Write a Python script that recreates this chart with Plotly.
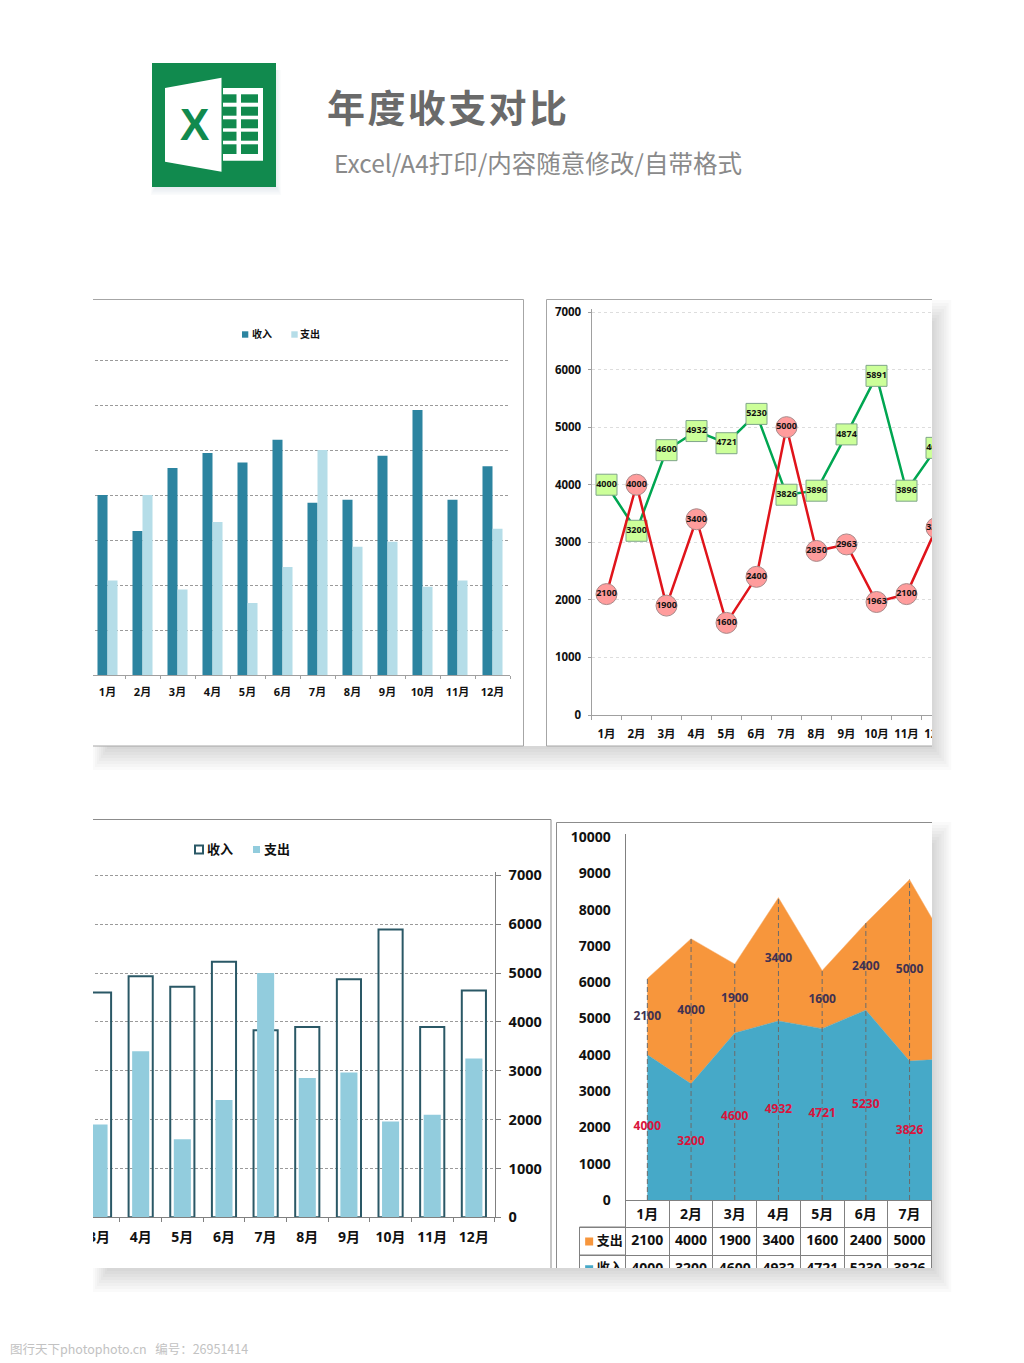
import plotly.graph_objects as go

W, H = 1024, 1363

months = ["1月", "2月", "3月", "4月", "5月", "6月", "7月", "8月", "9月", "10月", "11月", "12月"]
income = [4000, 3200, 4600, 4932, 4721, 5230, 3826, 3896, 4874, 5891, 3896, 4640]
expense = [2100, 4000, 1900, 3400, 1600, 2400, 5000, 2850, 2963, 1963, 2100, 3250]
name_income = "收入"
name_expense = "支出"
title_text = "年\u200a度\u200a收\u200a支\u200a对\u200a比"
subtitle_text = "Excel/A4打印/内容随意修改/自带格式"
watermark_text = "图行天下photophoto.cn   编号：26951414"
AREA_COLUMNS_SHOWN = 7  # the lower right panel crops the table after 7月

FONT = "Open Sans, Noto Sans CJK SC, sans-serif"
CJK = "Noto Sans CJK SC, sans-serif"
INK = "#111111"


def px(x):
    return x / W


def py(y):
    return 1 - y / H


def bold(size, color=INK):
    return dict(family=FONT, size=size, color=color, weight=700)


fig = go.Figure()
shapes, annots = [], []


def rect(x0, y0, x1, y1, fill, line=None, width=0):
    shapes.append(dict(type="rect", xref="paper", yref="paper", layer="above",
                       x0=px(x0), x1=px(x1), y0=py(y0), y1=py(y1), fillcolor=fill,
                       line=dict(color=line or "rgba(0,0,0,0)", width=width)))


def seg(x0, y0, x1, y1, color="#a6a6a6", width=1):
    shapes.append(dict(type="line", xref="paper", yref="paper", layer="above",
                       x0=px(x0), x1=px(x1), y0=py(y0), y1=py(y1),
                       line=dict(color=color, width=width)))


def label(x, y, text, font, anchor="left"):
    annots.append(dict(xref="paper", yref="paper", x=px(x), y=py(y), text=text, showarrow=False,
                       xanchor=anchor, yanchor="middle", font=font, borderpad=0, borderwidth=0))


def cat_axis(x0, x1, y_anchor, rng, size, ticklen=4, standoff=6, line="#a0a0a0", **kw):
    d = dict(type="category", categoryorder="array", categoryarray=months, range=rng,
             domain=[max(px(x0), 0), min(px(x1), 1)], anchor=y_anchor, tickson="boundaries",
             ticks="outside", ticklen=ticklen, tickwidth=1, tickcolor=line, showline=True,
             linecolor=line, linewidth=1, showgrid=False, tickfont=bold(size), tickangle=0,
             ticklabelstandoff=standoff, zeroline=False, fixedrange=True)
    d.update(kw)
    return d


def val_axis(y_bottom, y_top, x_anchor, top, **kw):
    # 3 px of headroom so that the top gridline is not clipped away
    head = 3
    d = dict(range=[0, top * (1 + head / (y_bottom - y_top))], domain=[py(y_bottom), py(y_top - head)],
             anchor=x_anchor, dtick=1000, tickformat="d", zeroline=False, fixedrange=True)
    d.update(kw)
    return d


def shown(values):
    return [str(v) if i < AREA_COLUMNS_SHOWN else "" for i, v in enumerate(values)]


# ---------- chart 1: grouped bars ----------
w1 = 0.286
fig.add_bar(x=months, y=income, name=name_income, xaxis="x", yaxis="y", width=w1, offset=-w1,
            marker=dict(color="#2C84A0", line_width=0))
fig.add_bar(x=months, y=expense, name=name_expense, xaxis="x", yaxis="y", width=w1, offset=0,
            marker=dict(color="#B5DDE8", line_width=0))

# ---------- chart 2: lines with value markers ----------
fig.add_scatter(x=months, y=income, name=name_income, xaxis="x2", yaxis="y2", mode="lines+markers+text",
                text=[str(v) for v in income], textposition="middle center", textfont=bold(9, "#111111"),
                line=dict(color="#00A651", width=2.5),
                marker=dict(symbol="square", size=21, color="#CCFF99", line=dict(color="#7FA58A", width=1)))
fig.add_scatter(x=months, y=expense, name=name_expense, xaxis="x2", yaxis="y2", mode="lines+markers+text",
                text=[str(v) for v in expense], textposition="middle center", textfont=bold(9, "#111111"),
                line=dict(color="#E0141B", width=2.5),
                marker=dict(symbol="circle", size=21, color="#FF9C9C", line=dict(color="#A88A8A", width=1)))

# ---------- chart 3: overlapped bars ----------
fig.add_bar(x=months, y=income, name=name_income, xaxis="x3", yaxis="y3", width=0.58, offset=-0.29,
            marker=dict(color="rgba(0,0,0,0)", line=dict(color="#2A5866", width=2)))
fig.add_bar(x=months, y=expense, name=name_expense, xaxis="x3", yaxis="y3", width=0.41, offset=-0.205,
            marker=dict(color="#92CCDD", line_width=0))

# ---------- chart 4: stacked area with drop lines and data table ----------
fig.add_scatter(x=months, y=income, name=name_income, xaxis="x4", yaxis="y4", mode="lines",
                stackgroup="a", fillcolor="#46A9C8", line=dict(width=0.5, color="#46A9C8"))
fig.add_scatter(x=months, y=expense, name=name_expense, xaxis="x4", yaxis="y4", mode="lines",
                stackgroup="a", fillcolor="#F7963C", line=dict(width=0.5, color="#F9B980"))
drop_x, drop_y = [], []
for m, a, b in zip(months, income, expense):
    drop_x += [m, m, None]
    drop_y += [0, a + b, None]
fig.add_scatter(x=drop_x, y=drop_y, xaxis="x4", yaxis="y4", mode="lines",
                line=dict(color="#6b6b6b", width=1, dash="5px,3px"), hoverinfo="skip")
fig.add_scatter(x=months, y=[a / 2 for a in income], xaxis="x4", yaxis="y4", mode="text",
                text=shown(income), textfont=bold(12, "#D9143C"))
fig.add_scatter(x=months, y=[a + b / 2 for a, b in zip(income, expense)], xaxis="x4", yaxis="y4", mode="text",
                text=shown(expense), textfont=bold(12, "#403152"))

# table under the area chart, sharing its categories
ROW_EXPENSE, ROW_INCOME = 1.5, 2.5
fig.add_scatter(x=months, y=[ROW_EXPENSE] * 12, xaxis="x5", yaxis="y5", mode="text",
                text=shown(expense), textfont=bold(14))
fig.add_scatter(x=months, y=[ROW_INCOME] * 12, xaxis="x5", yaxis="y5", mode="text",
                text=shown(income), textfont=bold(14))
fig.add_scatter(x=[0.21], y=[ROW_EXPENSE], xaxis="x6", yaxis="y5", mode="markers",
                marker=dict(symbol="square", size=8, color="#F7963C"))
fig.add_scatter(x=[0.21], y=[ROW_INCOME], xaxis="x6", yaxis="y5", mode="markers",
                marker=dict(symbol="square", size=8, color="#46A9C8"))
fig.add_scatter(x=[0.66], y=[ROW_EXPENSE], xaxis="x6", yaxis="y5", mode="text", text=[name_expense],
                textfont=bold(13))
fig.add_scatter(x=[0.66], y=[ROW_INCOME], xaxis="x6", yaxis="y5", mode="text", text=[name_income],
                textfont=bold(13))

# ---------- panel geometry ----------
c3_right, c3_step = 494.7, 41.65
c4_left, c4_step = 625.5, 43.7
c4_end = -0.5 + (W - c4_left) / c4_step
grey_dash = dict(showgrid=True, gridcolor="#9a9a9a", griddash="3px,2px", gridwidth=1)

fig.update_layout(
    width=W, height=H, margin=dict(l=0, r=0, t=0, b=0, pad=0, autoexpand=False), showlegend=False, barmode="overlay",
    paper_bgcolor="white", plot_bgcolor="rgba(0,0,0,0)", hovermode=False,
    xaxis=cat_axis(90, 510, "y", [-0.5, 11.5], 11, ticklen=3, standoff=7),
    yaxis=val_axis(675, 360, "x", 7000, showticklabels=False, ticks="", showline=False, **grey_dash),
    xaxis2=cat_axis(591.5, 951.5, "y2", [-0.5, 11.5], 11.5, ticklen=4, standoff=8),
    yaxis2=val_axis(715, 312, "x2", 7000, showline=True, linecolor="#a0a0a0", ticks="outside", ticklen=3,
                    tickcolor="#a0a0a0", tickfont=bold(11.5), showgrid=True, gridcolor="#dddddd",
                    griddash="dot", ticklabelstandoff=4),
    xaxis3=cat_axis(0, c3_right, "y3", [11.5 - c3_right / c3_step, 11.5], 14, ticklen=4, standoff=7, line="#808080"),
    yaxis3=val_axis(1217.3, 875.3, "x3", 7000, side="right", showline=True, linecolor="#808080", ticks="outside",
                    ticklen=5, tickcolor="#808080", tickfont=bold(14.5), ticklabelstandoff=5, **grey_dash),
    xaxis4=cat_axis(c4_left, W, "y4", [-0.5, c4_end], 14, ticks="", ticklen=0, standoff=1, line="#808080"),
    yaxis4=val_axis(1200, 837, "x4", 10000, showline=True, linecolor="#808080", showgrid=False,
                    tickfont=bold(14), ticklabelstandoff=11),
    xaxis5=cat_axis(c4_left, W, "y5", [-0.5, c4_end], 14, ticks="", ticklen=0, showticklabels=False, showline=False,
                    showgrid=True, gridcolor="#808080", gridwidth=1),
    yaxis5=dict(range=[3, 0], domain=[py(1283), py(1200)], anchor="x5", tickvals=[1, 2, 3], showticklabels=False,
                showgrid=True, gridcolor="#808080", zeroline=False, fixedrange=True),
    xaxis6=dict(range=[0, 1], domain=[px(579.5), px(c4_left)], anchor="y5", visible=False, fixedrange=True),
)

# ---------- masks: reference panels crop their charts ----------
rect(0, 296, 93, 750, "white")
rect(932, 296, W, 750, "white")
rect(0, 816, 93, 1300, "white")
rect(932, 816, W, 1300, "white")
rect(93, 1268, 932, 1300, "white")

# table frame to the left of the month columns
seg(579.5, 1227, c4_left, 1227, "#808080")
seg(579.5, 1255, c4_left, 1255, "#808080")
seg(579.5, 1227, 579.5, 1268, "#808080")
seg(c4_left, 1200, c4_left, 1268, "#808080")

# soft panel shadows
for i in range(1, 9):
    a = "rgba(0,0,0,0.02)"
    for top, bottom in ((300, 746), (822, 1268)):
        rect(93 + 2 * (8 - i), bottom, 932 + i * 2.4, bottom + i * 3, a)
        rect(932, top + 3 * (8 - i), 932 + i * 2.4, bottom, a)

# panel borders
for x0, x1, top, bottom in ((93, 523.5, 299.5, 746), (546.5, 932, 299.5, 746)):
    seg(x0, top, x1, top)
    seg(x0, bottom, x1, bottom)
seg(523.5, 299.5, 523.5, 746)
seg(546.5, 299.5, 546.5, 746)
seg(93, 819.5, 551, 819.5, "#8c8c8c")
seg(551, 819.5, 551, 1268, "#8c8c8c")
seg(556.5, 822.5, 932, 822.5, "#8c8c8c")
seg(556.5, 822.5, 556.5, 1268, "#8c8c8c")

# ---------- chart legends ----------
rect(242, 331.3, 248.3, 337.7, "#2C84A0")
label(251.5, 334, name_income, bold(10))
rect(291.3, 331.3, 297.7, 337.7, "#B5DDE8")
label(300, 334, name_expense, bold(10))
rect(195, 845.5, 203, 853.5, "white", "#2A5866", 2)
label(207, 849, name_income, bold(13))
rect(253, 846, 260, 853, "#92CCDD")
label(264, 849, name_expense, bold(13))

# ---------- header with the spreadsheet badge ----------
for i in range(1, 6):
    rect(152 - i + 4, 187, 276 + i, 187 + i * 1.6, "rgba(60,80,110,0.025)")
    rect(276, 70, 276 + i, 187, "rgba(60,80,110,0.02)")
rect(152, 63, 276, 187, "#118A4E")
shapes.append(dict(type="path", xref="paper", yref="paper", layer="above", fillcolor="white", line_width=0,
                   path=(f"M {px(165)} {py(88)} L {px(221.5)} {py(77.7)} L {px(221.5)} {py(171.7)} "
                         f"L {px(165)} {py(161.7)} Z")))
rect(223, 88, 263, 160.7, "white")
for yy0, yy1 in ((94.3, 102.7), (106.7, 115.7), (119.3, 128.3), (131.7, 140.7), (144.3, 154)):
    rect(223, yy0, 236.5, yy1, "#118A4E")
    rect(241, yy0, 258, yy1, "#118A4E")
label(194, 124, "X", dict(family="Liberation Sans Narrow, Liberation Sans", size=44, color="#118A4E", weight=700), "center")

label(327, 106, title_text, dict(family=CJK, size=38, color="#6a6a6a", weight=700))
label(334, 163, subtitle_text, dict(family=CJK, size=24.5, color="#8a8a8a"))
label(10, 1348, watermark_text, dict(family=CJK, size=12.5, color="#c2c2c2"))

fig.update_layout(shapes=shapes, annotations=annots)
fig.write_html("out.html", config=dict(displayModeBar=False),
               post_script="document.body.style.margin='0';document.documentElement.style.overflow='hidden';")
